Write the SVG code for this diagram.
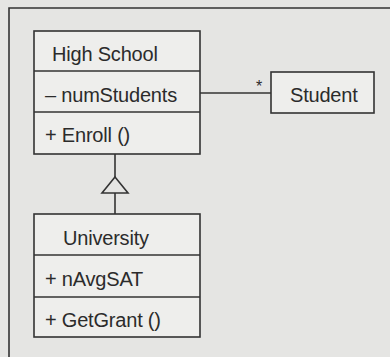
<svg xmlns="http://www.w3.org/2000/svg" width="390" height="357" viewBox="0 0 390 357">
<style>
.box{fill:#eeeeec;stroke:#333;stroke-width:1.6}
.ln{stroke:#333;stroke-width:1.6;fill:none}
.t{font-family:"Liberation Sans",Arial,sans-serif;font-size:20px;fill:#2b2b2b;letter-spacing:-0.2px}
</style>
<rect x="0" y="0" width="390" height="357" fill="#e5e5e3"/>
<path class="ln" d="M9,357 V8 H390"/>
<g id="connectors">
<line class="ln" x1="200" y1="93" x2="271" y2="93"/>
<text class="t" x="256" y="92" style="font-size:16px">*</text>
<line class="ln" x1="115" y1="154" x2="115" y2="177"/>
<polygon class="ln" points="115,177 102,193 128,193" fill="#eeeeec"/>
<line class="ln" x1="115" y1="193" x2="115" y2="214"/>
</g>
<g id="highschool">
<rect class="box" x="34" y="31" width="166" height="123"/>
<line class="ln" x1="34" y1="71" x2="200" y2="71"/>
<line class="ln" x1="34" y1="112" x2="200" y2="112"/>
<text class="t" x="52" y="61">High School</text>
<text class="t" x="45" y="102">– numStudents</text>
<text class="t" x="45" y="142">+ Enroll ()</text>
</g>
<g id="student">
<rect class="box" x="271" y="72" width="103" height="41"/>
<text class="t" x="290" y="102">Student</text>
</g>
<g id="university">
<rect class="box" x="34" y="214" width="166" height="123"/>
<line class="ln" x1="34" y1="255" x2="200" y2="255"/>
<line class="ln" x1="34" y1="297" x2="200" y2="297"/>
<text class="t" x="63" y="245">University</text>
<text class="t" x="45" y="286">+ nAvgSAT</text>
<text class="t" x="45" y="327">+ GetGrant ()</text>
</g>
</svg>
